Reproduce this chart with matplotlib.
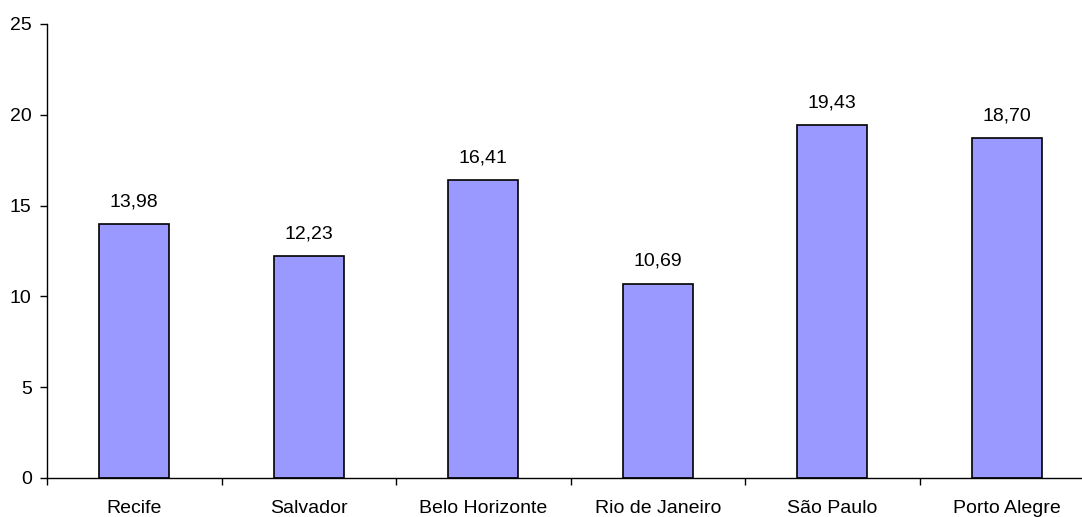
import numpy as np
import matplotlib.pyplot as plt

plt.rcParams['font.family'] = ['Liberation Sans', 'DejaVu Sans']

cidades = ["Recife", "Salvador", "Belo Horizonte", "Rio de Janeiro", "São Paulo", "Porto Alegre"]
valores = [13.98, 12.23, 16.41, 10.69, 19.43, 18.70]
yticks = [0, 5, 10, 15, 20, 25]

fig = plt.figure(figsize=(10.82, 5.17), dpi=100)
ax = fig.add_axes([47 / 1082, 39 / 517, 1047 / 1082, 454 / 517])

x = np.arange(len(cidades))
barras = ax.bar(x, valores, width=0.4, color="#9999FF", edgecolor="black", linewidth=1.2)

for xi, v in zip(x, valores):
    ax.annotate(f"{v:.2f}".replace(".", ","), (xi, v), xytext=(0, 10),
                textcoords="offset points", ha="center", va="bottom", fontsize=14)

ax.set_xlim(-0.5, len(cidades) - 0.5)
ax.set_ylim(0, 25)
ax.set_yticks(yticks)
ax.set_yticklabels([str(t) for t in yticks], fontsize=14)
ax.set_xticks(x)
ax.set_xticklabels(cidades, fontsize=14)
ax.tick_params(axis="x", length=0, pad=16)
ax.set_xticks(np.arange(len(cidades) + 1) - 0.5, minor=True)
ax.tick_params(axis="x", which="minor", length=5, width=1)
ax.tick_params(axis="y", length=5, width=1, pad=6)

for s in ["top", "right"]:
    ax.spines[s].set_visible(False)
for s in ["left", "bottom"]:
    ax.spines[s].set_linewidth(1)

fig.savefig("out.png", dpi=100)
